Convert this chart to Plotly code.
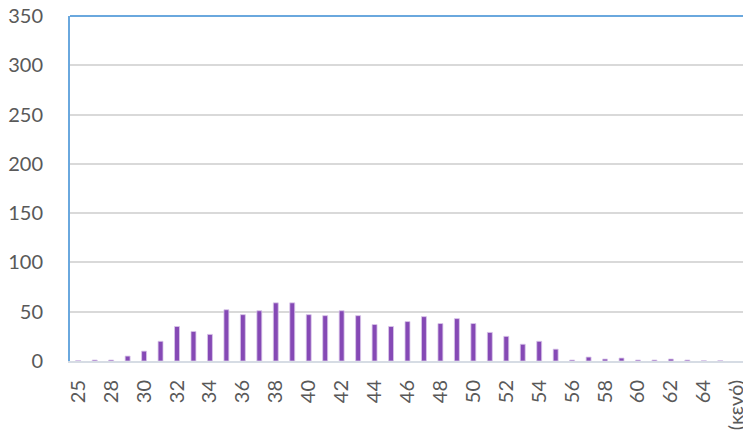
import plotly.graph_objects as go

categories = ["25", "27", "28", "29", "30", "31", "32", "33", "34", "35", "36", "37",
              "38", "39", "40", "41", "42", "43", "44", "45", "46", "47", "48", "49",
              "50", "51", "52", "53", "54", "55", "56", "57", "58", "59", "60", "61",
              "62", "63", "64", "65", "(κενό)"]
values = [0.5, 1, 1, 5, 10, 20, 35, 30, 27, 52, 47, 51,
          59, 59, 47, 46, 51, 46, 37, 35, 40, 45, 38, 43,
          38, 29, 25, 17, 20, 12, 1, 4, 2, 3, 1, 1,
          2, 1, 0.3, 0.3, None]
tick_labels = categories[::2]
y_ticks = [0, 50, 100, 150, 200, 250, 300, 350]

fig = go.Figure()
fig.add_trace(go.Bar(
    x=categories, y=values,
    marker=dict(color="#8549B5", line=dict(color="#D9C6EA", width=0.8)),
))

font = dict(family="Lato, 'Open Sans', sans-serif", size=20, color="#595959")

# page body has an 8px default margin; size the figure to fill the rest
fig.update_layout(
    width=743, height=428,
    margin=dict(l=62, r=6, t=8, b=75),
    paper_bgcolor="white", plot_bgcolor="white",
    bargap=0.7,
    showlegend=False,
    font=font,
    xaxis=dict(
        type="category", automargin=False,
        categoryorder="array", categoryarray=categories,
        tickmode="array", tickvals=tick_labels, ticktext=tick_labels,
        tickangle=-90, ticklabeloverflow="allow",
        showline=True, linecolor="#D6DCE4", linewidth=2,
        showgrid=False, ticks="outside", ticklen=9, tickcolor="rgba(0,0,0,0)",
        tickfont=font,
    ),
    yaxis=dict(
        range=[0, 350], automargin=False, ticklabeloverflow="allow",
        tickmode="array", tickvals=y_ticks,
        showgrid=True, gridcolor="#D9D9D9", gridwidth=1.5,
        showline=True, linecolor="#6AA8DE", linewidth=2, mirror=True,
        ticks="outside", ticklen=21, tickcolor="rgba(0,0,0,0)",
        tickfont=font, zeroline=False,
    ),
    shapes=[dict(type="line", xref="paper", yref="paper", x0=0, x1=1, y0=1, y1=1,
                 line=dict(color="#6AA8DE", width=2))],
)

fig.write_html("out.html")
